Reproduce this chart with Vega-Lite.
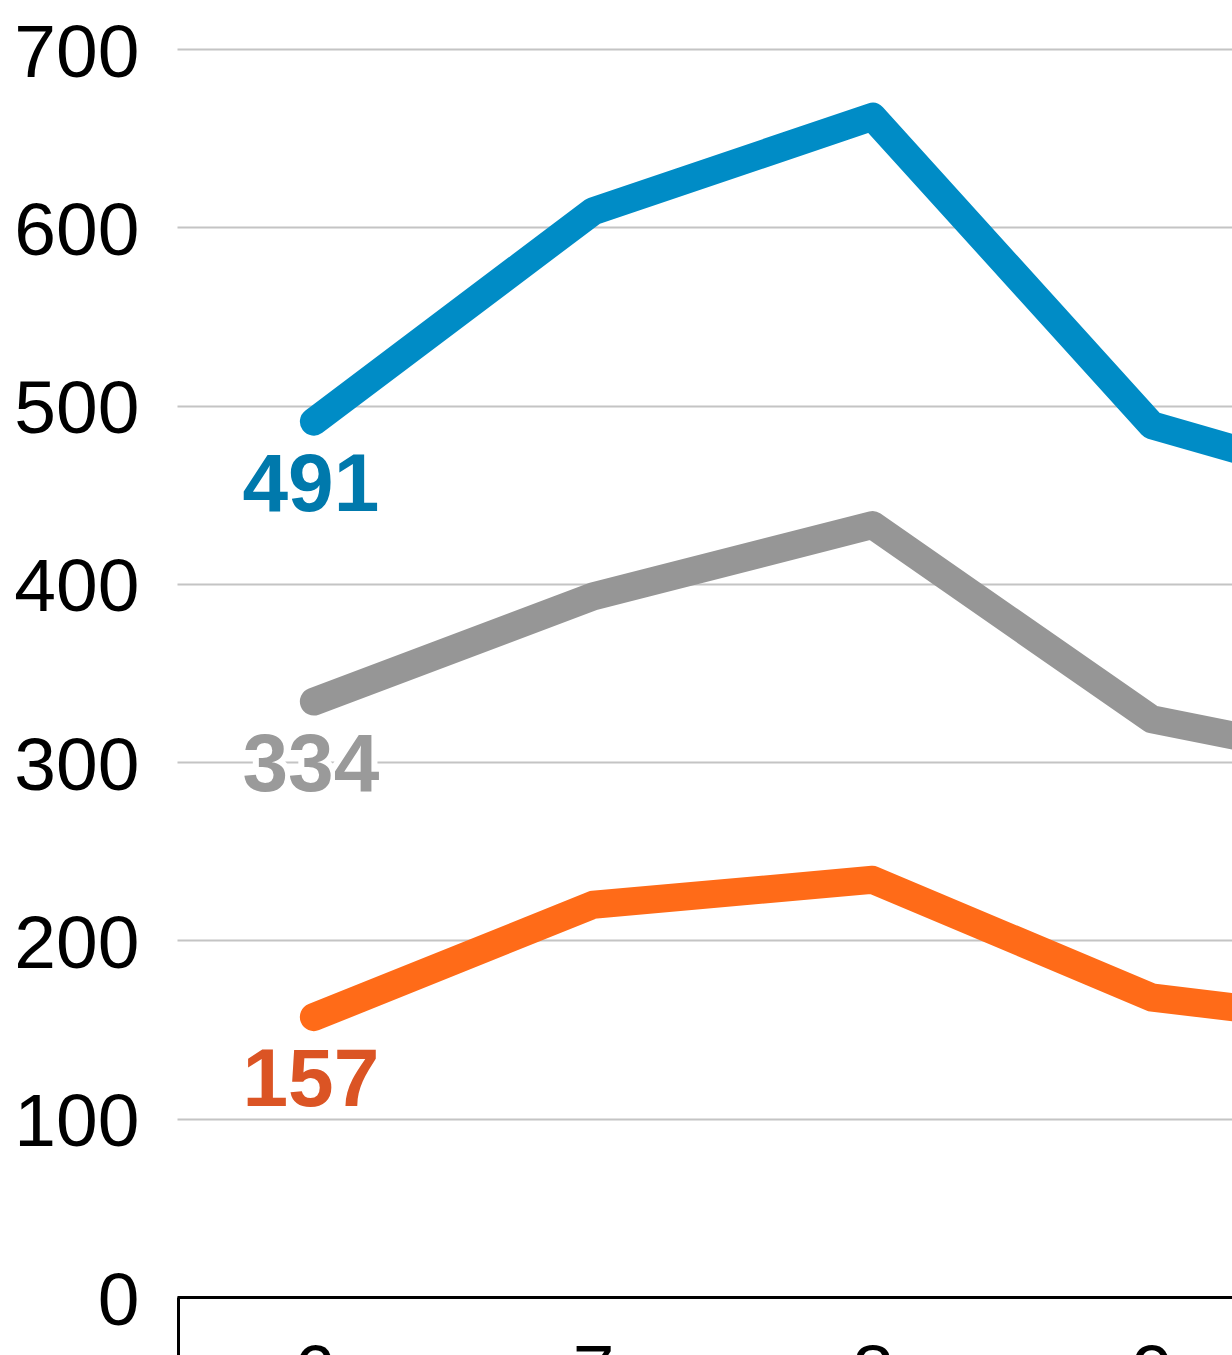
{
  "$schema": "https://vega.github.io/schema/vega-lite/v6.json",
  "autosize": {"type": "none"},
  "padding": {"left": 177, "top": 49, "right": 0, "bottom": 58},
  "width": 1055,
  "height": 1248,
  "background": "white",
  "config": {"view": {"stroke": null}, "font": "Liberation Sans"},
  "data": {
    "values": [
      {"series": "A", "x": 6, "value": 491},
      {"series": "A", "x": 7, "value": 609},
      {"series": "A", "x": 8, "value": 662},
      {"series": "A", "x": 9, "value": 489},
      {"series": "A", "x": 10, "value": 444},
      {"series": "B", "x": 6, "value": 334},
      {"series": "B", "x": 7, "value": 393},
      {"series": "B", "x": 8, "value": 433},
      {"series": "B", "x": 9, "value": 324},
      {"series": "B", "x": 10, "value": 293},
      {"series": "C", "x": 6, "value": 157},
      {"series": "C", "x": 7, "value": 220},
      {"series": "C", "x": 8, "value": 234},
      {"series": "C", "x": 9, "value": 168},
      {"series": "C", "x": 10, "value": 149}
    ]
  },
  "layer": [
    {
      "mark": {"type": "line", "strokeWidth": 28, "strokeCap": "round", "strokeJoin": "round", "clip": true},
      "encoding": {
        "x": {
          "field": "x", "type": "quantitative",
          "scale": {"domain": [5.51, 9.287], "nice": false, "zero": false},
          "axis": {
            "values": [5.515, 6, 7, 8, 9],
            "labelExpr": "datum.value < 5.9 ? '' : format(datum.value, 'd')",
            "grid": false,
            "domainColor": "black",
            "domainWidth": 3,
            "tickColor": "black",
            "tickWidth": 3,
            "tickSize": 80,
            "tickOpacity": {"condition": {"test": "datum.value < 5.9", "value": 1}, "value": 0},
            "labelFontSize": 75,
            "labelColor": "black",
            "labelPadding": -40,
            "labelBaseline": "top",
            "labelFlush": false,
            "labelOverlap": false,
            "title": null
          }
        },
        "y": {
          "field": "value", "type": "quantitative",
          "scale": {"domain": [0, 700], "nice": false},
          "axis": {
            "values": [0, 100, 200, 300, 400, 500, 600, 700],
            "grid": true,
            "gridColor": "#c4c4c4",
            "gridWidth": 2,
            "domain": false,
            "ticks": false,
            "tickSize": 0,
            "labelFontSize": 75,
            "labelColor": "black",
            "labelPadding": 38,
            "labelOffset": 4,
            "labelFlush": false,
            "labelOverlap": false,
            "title": null
          }
        },
        "color": {
          "field": "series", "type": "nominal",
          "scale": {"domain": ["A", "B", "C"], "range": ["#008CC6", "#969696", "#FF6B18"]},
          "legend": null
        }
      }
    },
    {
      "transform": [{"filter": "datum.x == 6 && datum.series == 'B'"}],
      "mark": {"type": "text", "fontSize": 82, "fontWeight": "bold", "dy": 64, "dx": -3, "baseline": "middle", "align": "center", "fill": "white", "stroke": "white", "strokeWidth": 12, "strokeJoin": "round"},
      "encoding": {
        "x": {"field": "x", "type": "quantitative"},
        "y": {"field": "value", "type": "quantitative"},
        "text": {"field": "value", "type": "quantitative"}
      }
    },
    {
      "transform": [{"filter": "datum.x == 6"}],
      "mark": {"type": "text", "fontSize": 82, "fontWeight": "bold", "dy": 64, "dx": -3, "baseline": "middle", "align": "center"},
      "encoding": {
        "x": {"field": "x", "type": "quantitative"},
        "y": {"field": "value", "type": "quantitative"},
        "text": {"field": "value", "type": "quantitative"},
        "color": {
          "field": "series", "type": "nominal",
          "scale": {"domain": ["A", "B", "C"], "range": ["#0079AC", "#9A9A9A", "#DB5424"]},
          "legend": null
        }
      }
    }
  ],
  "resolve": {"scale": {"color": "independent"}}
}
